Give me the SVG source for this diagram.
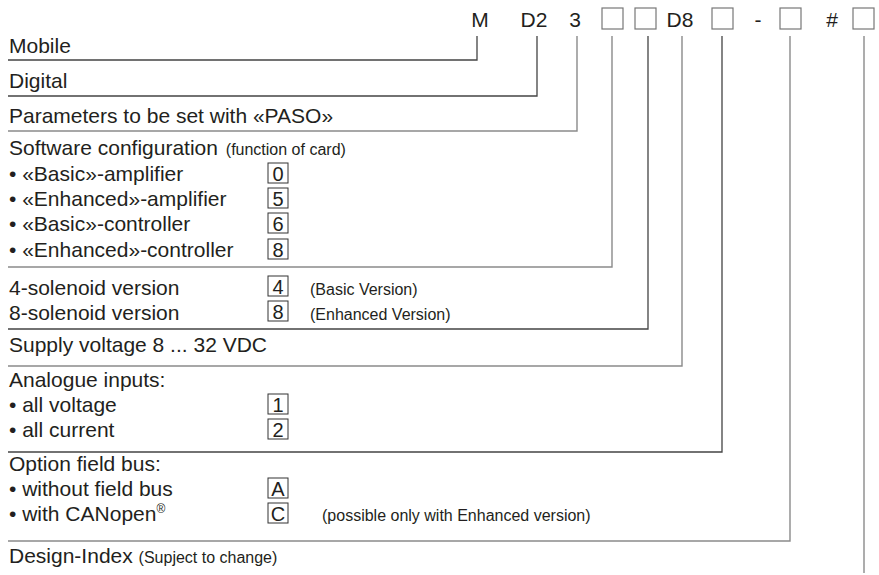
<svg xmlns="http://www.w3.org/2000/svg" width="879" height="575" viewBox="0 0 879 575">
<style>
text{font-family:"Liberation Sans",Arial,sans-serif;fill:#231f20}
.t{font-size:21px}
.s{font-size:16px}
.h{font-size:21px;text-anchor:middle}
.d{font-size:20px;text-anchor:middle}
.ln{fill:none;stroke:#444;stroke-width:1.3}
.lg{fill:none;stroke:#8a8a8a;stroke-width:1.4}
.bx{fill:none;stroke:#333;stroke-width:1}
.hb{fill:none;stroke:#777;stroke-width:1.2}
</style>
<rect width="879" height="575" fill="#fff"/>
<g id="header">
<text class="h" x="480" y="27">M</text>
<text class="h" x="534" y="27">D2</text>
<text class="h" x="575" y="27">3</text>
<rect class="hb" x="602" y="8" width="21" height="21"/>
<rect class="hb" x="635" y="8" width="21" height="21"/>
<text class="h" x="680" y="27">D8</text>
<rect class="hb" x="712" y="8" width="21" height="21"/>
<text class="h" x="758" y="27">-</text>
<rect class="hb" x="780" y="8" width="21" height="21"/>
<text class="h" x="832" y="27">#</text>
<rect class="hb" x="853" y="8" width="21" height="21"/>
</g>
<g id="connectors">
<path class="ln" d="M477,36V60H8"/>
<path class="ln" d="M537,36V96H8"/>
<path class="lg" d="M577,36V131H8"/>
<path class="lg" d="M612,36V267H8"/>
<path class="ln" d="M648,36V329H8"/>
<path class="lg" d="M682,36V366H8"/>
<path class="ln" d="M722,36V452H8"/>
<path class="lg" d="M790,36V541H8"/>
<path class="lg" d="M864,36V573"/>
</g>
<g id="mobile"><text class="t" x="9" y="53">Mobile</text></g>
<g id="digital"><text class="t" x="9" y="88">Digital</text></g>
<g id="paso"><text class="t" x="9" y="123">Parameters to be set with «PASO»</text></g>
<g id="software">
<text class="t" x="9" y="155">Software configuration <tspan class="s" dx="2">(function of card)</tspan></text>
<text class="t" x="9" y="181">• «Basic»-amplifier</text>
<text class="t" x="9" y="206">• «Enhanced»-amplifier</text>
<text class="t" x="9" y="231">• «Basic»-controller</text>
<text class="t" x="9" y="257">• «Enhanced»-controller</text>
<rect class="bx" x="268" y="163" width="20" height="20"/><text class="d" x="278" y="181">0</text>
<rect class="bx" x="268" y="188" width="20" height="20"/><text class="d" x="278" y="206">5</text>
<rect class="bx" x="268" y="213" width="20" height="20"/><text class="d" x="278" y="231">6</text>
<rect class="bx" x="268" y="239" width="20" height="20"/><text class="d" x="278" y="257">8</text>
</g>
<g id="solenoid">
<text class="t" x="9" y="295">4-solenoid version</text>
<text class="t" x="9" y="320">8-solenoid version</text>
<rect class="bx" x="268" y="276" width="20" height="20"/><text class="d" x="278" y="294">4</text>
<rect class="bx" x="268" y="301" width="20" height="20"/><text class="d" x="278" y="319">8</text>
<text class="s" x="310" y="295">(Basic Version)</text>
<text class="s" x="310" y="320">(Enhanced Version)</text>
</g>
<g id="supply"><text class="t" x="9" y="352">Supply voltage 8 ... 32 VDC</text></g>
<g id="analogue">
<text class="t" x="9" y="387">Analogue inputs:</text>
<text class="t" x="9" y="412">• all voltage</text>
<text class="t" x="9" y="437">• all current</text>
<rect class="bx" x="268" y="394" width="20" height="20"/><text class="d" x="278" y="412">1</text>
<rect class="bx" x="268" y="419" width="20" height="20"/><text class="d" x="278" y="437">2</text>
</g>
<g id="fieldbus">
<text class="t" x="9" y="471">Option field bus:</text>
<text class="t" x="9" y="496">• without field bus</text>
<text class="t" x="9" y="521">• with CANopen<tspan font-size="12" dy="-8">®</tspan></text>
<rect class="bx" x="268" y="478" width="20" height="20"/><text class="d" x="278" y="496">A</text>
<rect class="bx" x="268" y="503" width="20" height="20"/><text class="d" x="278" y="521">C</text>
<text class="s" x="322" y="521">(possible only with Enhanced version)</text>
</g>
<g id="design"><text class="t" x="9" y="563">Design-Index <tspan class="s">(Supject to change)</tspan></text></g>
</svg>
